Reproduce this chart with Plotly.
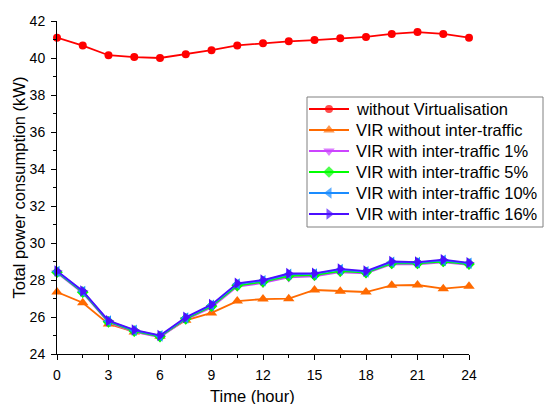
import plotly.graph_objects as go

# Hour of day (sampled every 1.5 h)
hours = [0, 1.5, 3, 4.5, 6, 7.5, 9, 10.5, 12, 13.5, 15, 16.5, 18, 19.5, 21, 22.5, 24]

# Total power consumption (kW)
without_virt = [41.10, 40.67, 40.15, 40.05, 40.00, 40.20, 40.42, 40.68, 40.80, 40.90,
                40.97, 41.07, 41.14, 41.30, 41.40, 41.30, 41.10]
vir_no_inter = [27.35, 26.77, 25.62, 25.19, 24.96, 25.82, 26.22, 26.86, 26.97, 26.99,
                27.46, 27.39, 27.35, 27.71, 27.73, 27.53, 27.66]
vir_inter_1 = [28.38, 27.30, 25.70, 25.20, 24.90, 25.86, 26.52, 27.64, 27.84, 28.14,
               28.20, 28.42, 28.36, 28.85, 28.85, 28.96, 28.82]
vir_inter_5 = [28.42, 27.34, 25.74, 25.24, 24.94, 25.90, 26.58, 27.70, 27.90, 28.22,
               28.26, 28.48, 28.40, 28.90, 28.90, 29.00, 28.86]
vir_inter_10 = [28.46, 27.38, 25.78, 25.28, 24.98, 25.95, 26.63, 27.78, 27.96, 28.31,
                28.33, 28.56, 28.44, 28.96, 28.94, 29.06, 28.90]
vir_inter_16 = [28.49, 27.41, 25.80, 25.30, 25.00, 25.98, 26.67, 27.82, 28.00, 28.35,
                28.36, 28.60, 28.48, 29.00, 28.97, 29.10, 28.93]

series = [
    ("without Virtualisation", without_virt, "#FF0000", "circle", 8),
    ("VIR without inter-traffic", vir_no_inter, "#FF6A00", "triangle-up", 10),
    ("VIR with inter-traffic 1%", vir_inter_1, "#CC44FF", "triangle-down", 10),
    ("VIR with inter-traffic 5%", vir_inter_5, "#00FF00", "diamond", 9),
    ("VIR with inter-traffic 10%", vir_inter_10, "#1A8CFF", "triangle-left", 10),
    ("VIR with inter-traffic 16%", vir_inter_16, "#4B0FFF", "triangle-right", 10),
]

FONT = "Liberation Sans, Arial, sans-serif"
W, H = 547, 404
L, R, T, B = 57, 78, 21, 50
PW, PH = W - L - R, H - T - B


def px_to_paper_x(px):
    return (px - L) / PW


def px_to_paper_y(py):
    return (H - B - py) / PH


fig = go.Figure()
for name, vals, color, symbol, size in series:
    fig.add_trace(go.Scatter(
        x=hours, y=vals, name=name, mode="lines+markers",
        line=dict(color=color, width=1.8),
        marker=dict(color=color, symbol=symbol, size=size, line=dict(width=0)),
        cliponaxis=False, showlegend=False,
    ))

# Legend drawn by hand: frame, line-and-marker keys, labels
leg_x0, leg_x1, leg_y0, leg_y1 = 307, 543, 97, 227
row_y0, row_step = 109, 21
key_x0, key_x1, text_x = 309, 349, 354

annotations = []
shapes = [dict(type="rect", xref="paper", yref="paper",
               x0=px_to_paper_x(leg_x0), x1=px_to_paper_x(leg_x1),
               y0=px_to_paper_y(leg_y1), y1=px_to_paper_y(leg_y0),
               line=dict(color="#808080", width=1), fillcolor="rgba(0,0,0,0)",
               layer="below")]
for i, (name, vals, color, symbol, size) in enumerate(series):
    yy = row_y0 + row_step * i
    fig.add_trace(go.Scatter(
        x=[key_x0, (key_x0 + key_x1) / 2, key_x1], y=[yy, yy, yy],
        xaxis="x2", yaxis="y2", mode="lines+markers",
        line=dict(color=color, width=1.8),
        marker=dict(color=color, symbol=symbol, size=[0, size, 0], line=dict(width=0)),
        cliponaxis=False, showlegend=False, hoverinfo="skip",
    ))
    annotations.append(dict(text=name, xref="paper", yref="paper",
                            x=px_to_paper_x(text_x), y=px_to_paper_y(yy),
                            xanchor="left", yanchor="middle", showarrow=False,
                            font=dict(family=FONT, size=16.5, color="black")))

axis_common = dict(
    showline=True, linecolor="black", linewidth=1,
    ticks="outside", ticklen=5, tickwidth=1, tickcolor="black",
    showgrid=False, zeroline=False, ticklabelstandoff=3,
    tickfont=dict(family=FONT, size=14, color="black"),
)

fig.update_layout(
    xaxis=dict(range=[0, 24], tick0=0, dtick=3,
               minor=dict(ticks="outside", ticklen=3, dtick=1.5, tick0=0,
                          tickcolor="black", showgrid=False),
               **axis_common),
    yaxis=dict(range=[24, 42], tick0=24, dtick=2,
               minor=dict(ticks="outside", ticklen=3, dtick=1, tick0=24,
                          tickcolor="black", showgrid=False),
               **axis_common),
    xaxis2=dict(overlaying="x", range=[L, W - R], visible=False, fixedrange=True),
    yaxis2=dict(overlaying="y", range=[H - B, T], visible=False, fixedrange=True),
    width=W, height=H,
    margin=dict(l=L, r=R, t=T, b=B),
    plot_bgcolor="white", paper_bgcolor="white",
    font=dict(family=FONT, color="black"),
    showlegend=False,
    shapes=shapes,
    annotations=annotations + [
        dict(text="Time (hour)", xref="paper", yref="paper",
             x=px_to_paper_x(252.5), y=px_to_paper_y(396),
             xanchor="center", yanchor="middle",
             showarrow=False, font=dict(family=FONT, size=16.5, color="black")),
        dict(text="Total power consumption (kW)", xref="paper", yref="paper",
             x=px_to_paper_x(18), y=0.5, xanchor="center", yanchor="middle",
             textangle=-90,
             showarrow=False, font=dict(family=FONT, size=16.5, color="black")),
    ],
)

fig.write_html("out.html")
